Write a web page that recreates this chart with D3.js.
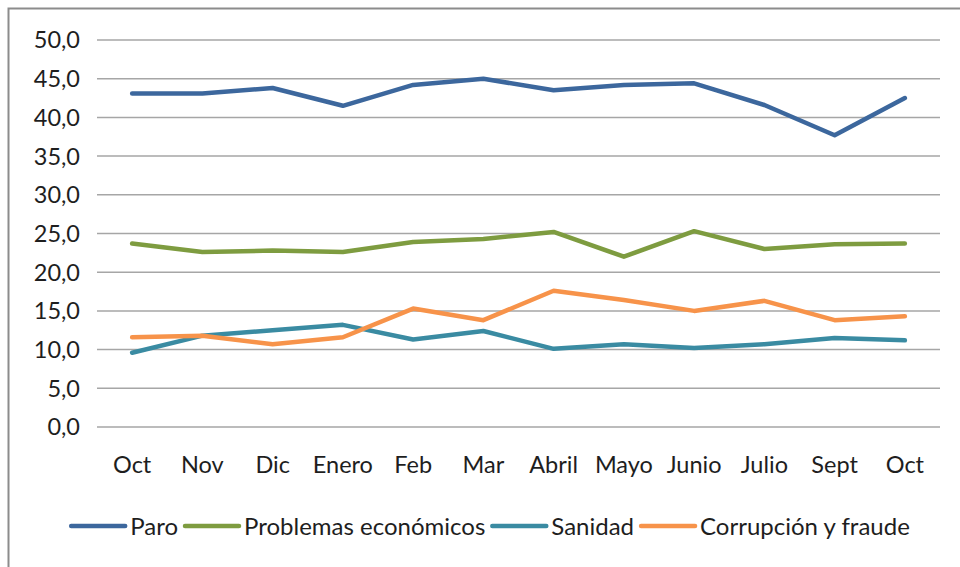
<!DOCTYPE html>
<html>
<head>
<meta charset="utf-8">
<script src="https://cdn.jsdelivr.net/npm/d3@7"></script>
<style>
  body { margin: 0; background: #fff; }
  text { font-family: Lato, "Open Sans", sans-serif; fill: #1e1e1e; }
</style>
</head>
<body>
<script>
// datos
const meses = ["Oct", "Nov", "Dic", "Enero", "Feb", "Mar", "Abril", "Mayo", "Junio", "Julio", "Sept", "Oct"];
const paro = [43.1, 43.1, 43.8, 41.5, 44.2, 45.0, 43.5, 44.2, 44.4, 41.6, 37.7, 42.5];
const problemas = [23.7, 22.6, 22.8, 22.6, 23.9, 24.3, 25.2, 22.0, 25.3, 23.0, 23.6, 23.7];
const sanidad = [9.6, 11.8, 12.5, 13.2, 11.3, 12.4, 10.1, 10.7, 10.2, 10.7, 11.5, 11.2];
const corrupcion = [11.6, 11.8, 10.7, 11.6, 15.3, 13.8, 17.6, 16.4, 15.0, 16.3, 13.8, 14.3];
const yTicks = [0, 5, 10, 15, 20, 25, 30, 35, 40, 45, 50];

const series = [
  { name: "Paro", values: paro, color: "#3c679d" },
  { name: "Problemas económicos", values: problemas, color: "#7e9c40" },
  { name: "Sanidad", values: sanidad, color: "#3a8ba2" },
  { name: "Corrupción y fraude", values: corrupcion, color: "#f7934a" }
];

const width = 960, height = 567;
const plotL = 97, plotR = 940, plotT = 40, plotB = 427;

const svg = d3.select("body").append("svg")
  .attr("width", width)
  .attr("height", height);

// marco
svg.append("path")
  .attr("d", `M8.5,${height}V8.5H${width}`)
  .attr("fill", "none")
  .attr("stroke", "#8c8c8c")
  .attr("stroke-width", 2);

const x = d3.scaleBand().domain(d3.range(meses.length)).range([plotL, plotR]);
const y = d3.scaleLinear().domain([0, 50]).range([plotB, plotT]);

// rejilla
svg.append("g")
  .selectAll("line")
  .data(yTicks)
  .join("line")
  .attr("x1", plotL)
  .attr("x2", plotR)
  .attr("y1", d => y(d))
  .attr("y2", d => y(d))
  .attr("stroke", "#a6a6a6")
  .attr("stroke-width", 1.5);

// eje y
svg.append("g")
  .selectAll("text")
  .data(yTicks)
  .join("text")
  .attr("x", 80)
  .attr("y", d => y(d))
  .attr("dy", "0.36em")
  .attr("text-anchor", "end")
  .style("font-size", "23.5px")
  .text(d => d3.format(".1f")(d).replace(".", ","));

// eje x
svg.append("g")
  .selectAll("text")
  .data(meses)
  .join("text")
  .attr("x", (d, i) => x(i) + x.bandwidth() / 2)
  .attr("y", 473)
  .attr("text-anchor", "middle")
  .style("font-size", "23.5px")
  .text(d => d);

// líneas
const line = d3.line()
  .x((d, i) => x(i) + x.bandwidth() / 2)
  .y(d => y(d));

svg.append("g")
  .selectAll("path")
  .data(series)
  .join("path")
  .attr("d", d => line(d.values))
  .attr("fill", "none")
  .attr("stroke", d => d.color)
  .attr("stroke-width", 4.5)
  .attr("stroke-linejoin", "round")
  .attr("stroke-linecap", "round");

// leyenda
const legend = svg.append("g");
let lx = 0;
series.forEach(s => {
  const g = legend.append("g").attr("transform", `translate(${lx},0)`);
  g.append("line")
    .attr("x1", 0).attr("x2", 54)
    .attr("y1", 0).attr("y2", 0)
    .attr("stroke", s.color)
    .attr("stroke-width", 4.5)
    .attr("stroke-linecap", "round");
  const t = g.append("text")
    .attr("x", 59)
    .attr("dy", "0.36em")
    .style("font-size", "24px")
    .text(s.name);
  lx += 59 + t.node().getComputedTextLength() + 7;
});
legend.attr("transform", `translate(${(63 + 918 - (lx - 7)) / 2},526)`);
</script>
</body>
</html>
